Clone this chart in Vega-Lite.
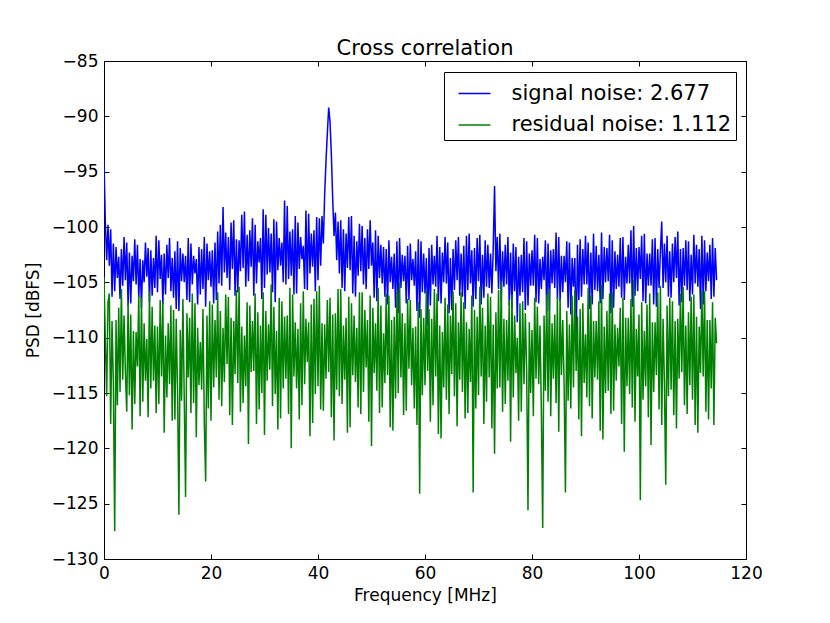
{
  "$schema": "https://vega.github.io/schema/vega-lite/v6.json",
  "title": {"text": "Cross correlation", "offset": -7},
  "width": 642,
  "height": 498,
  "autosize": "none",
  "padding": {"left": 104, "top": 61, "right": 84, "bottom": 64},
  "background": "white",
  "data": {
    "values": [
      {"f": 0, "s": -94.0, "r": -104.5}, {"f": 0.25, "s": -99.6, "r": -110.2}, {"f": 0.5, "s": -103.0, "r": -115.3}, {"f": 0.75, "s": -99.8, "r": -106.8},
      {"f": 1, "s": -103.5, "r": -106.0}, {"f": 1.25, "s": -100.2, "r": -117.8}, {"f": 1.5, "s": -106.3, "r": -108.5}, {"f": 1.75, "s": -101.5, "r": -114.0},
      {"f": 2, "s": -105.8, "r": -127.5}, {"f": 2.25, "s": -101.8, "r": -108.4}, {"f": 2.5, "s": -104.6, "r": -116.1}, {"f": 2.75, "s": -102.7, "r": -107.3},
      {"f": 3, "s": -106.5, "r": -114.9}, {"f": 3.25, "s": -102.0, "r": -105.6}, {"f": 3.5, "s": -105.3, "r": -113.8}, {"f": 3.75, "s": -100.9, "r": -108.0},
      {"f": 4, "s": -104.8, "r": -113.2}, {"f": 4.25, "s": -101.4, "r": -116.7}, {"f": 4.5, "s": -107.1, "r": -106.9}, {"f": 4.75, "s": -102.3, "r": -115.2},
      {"f": 5, "s": -106.9, "r": -107.9}, {"f": 5.25, "s": -102.6, "r": -118.3}, {"f": 5.5, "s": -104.9, "r": -109.4}, {"f": 5.75, "s": -101.1, "r": -116.0},
      {"f": 6, "s": -105.2, "r": -109.5}, {"f": 6.25, "s": -101.6, "r": -112.6}, {"f": 6.5, "s": -106.4, "r": -106.2}, {"f": 6.75, "s": -102.9, "r": -117.1},
      {"f": 7, "s": -107.3, "r": -106.4}, {"f": 7.25, "s": -103.0, "r": -115.8}, {"f": 7.5, "s": -105.0, "r": -108.7}, {"f": 7.75, "s": -101.4, "r": -113.9},
      {"f": 8, "s": -104.5, "r": -110.1}, {"f": 8.25, "s": -101.9, "r": -117.2}, {"f": 8.5, "s": -106.8, "r": -105.8}, {"f": 8.75, "s": -102.1, "r": -114.6},
      {"f": 9, "s": -106.2, "r": -107.2}, {"f": 9.25, "s": -102.8, "r": -113.9}, {"f": 9.5, "s": -105.5, "r": -108.9}, {"f": 9.75, "s": -100.8, "r": -116.8},
      {"f": 10, "s": -105.9, "r": -109.0}, {"f": 10.25, "s": -101.2, "r": -116.0}, {"f": 10.5, "s": -104.7, "r": -106.6}, {"f": 10.75, "s": -102.5, "r": -113.5},
      {"f": 11, "s": -107.0, "r": -106.8}, {"f": 11.25, "s": -102.4, "r": -118.6}, {"f": 11.5, "s": -106.1, "r": -109.8}, {"f": 11.75, "s": -101.6, "r": -115.4},
      {"f": 12, "s": -104.6, "r": -108.7}, {"f": 12.25, "s": -101.0, "r": -114.2}, {"f": 12.5, "s": -105.8, "r": -107.1}, {"f": 12.75, "s": -102.8, "r": -117.5},
      {"f": 13, "s": -106.4, "r": -107.5}, {"f": 13.25, "s": -102.2, "r": -117.4}, {"f": 13.5, "s": -107.4, "r": -108.3}, {"f": 13.75, "s": -101.3, "r": -114.8},
      {"f": 14, "s": -107.6, "r": -126.0}, {"f": 14.25, "s": -101.9, "r": -109.3}, {"f": 14.5, "s": -104.9, "r": -115.7}, {"f": 14.75, "s": -102.4, "r": -106.5},
      {"f": 15, "s": -105.0, "r": -115.5}, {"f": 15.25, "s": -102.6, "r": -124.4}, {"f": 15.5, "s": -106.6, "r": -107.8}, {"f": 15.75, "s": -101.0, "r": -113.6},
      {"f": 16, "s": -106.8, "r": -108.2}, {"f": 16.25, "s": -101.5, "r": -116.8}, {"f": 16.5, "s": -105.2, "r": -106.0}, {"f": 16.75, "s": -102.6, "r": -115.9},
      {"f": 17, "s": -104.2, "r": -106.9}, {"f": 17.25, "s": -102.9, "r": -119.0}, {"f": 17.5, "s": -107.0, "r": -109.1}, {"f": 17.75, "s": -101.8, "r": -114.3},
      {"f": 18, "s": -106.1, "r": -110.4}, {"f": 18.25, "s": -102.0, "r": -114.7}, {"f": 18.5, "s": -105.6, "r": -107.4}, {"f": 18.75, "s": -100.9, "r": -117.7},
      {"f": 19, "s": -107.2, "r": -123.0}, {"f": 19.25, "s": -101.5, "r": -108.0}, {"f": 19.5, "s": -104.8, "r": -116.4}, {"f": 19.75, "s": -102.2, "r": -106.7},
      {"f": 20, "s": -105.4, "r": -117.5}, {"f": 20.25, "s": -102.1, "r": -107.0}, {"f": 20.5, "s": -106.9, "r": -114.5}, {"f": 20.75, "s": -101.4, "r": -108.4},
      {"f": 21, "s": -106.6, "r": -113.6}, {"f": 21.25, "s": -100.4, "r": -105.9}, {"f": 21.5, "s": -105.1, "r": -115.6}, {"f": 21.75, "s": -99.8, "r": -107.6},
      {"f": 22, "s": -105.3, "r": -116.2}, {"f": 22.25, "s": -98.2, "r": -109.1}, {"f": 22.5, "s": -104.1, "r": -114.0}, {"f": 22.75, "s": -100.5, "r": -106.1},
      {"f": 23, "s": -104.6, "r": -112.4}, {"f": 23.25, "s": -100.9, "r": -106.3}, {"f": 23.5, "s": -105.7, "r": -117.0}, {"f": 23.75, "s": -99.6, "r": -108.2},
      {"f": 24, "s": -103.8, "r": -117.9}, {"f": 24.25, "s": -99.4, "r": -108.5}, {"f": 24.5, "s": -106.2, "r": -113.3}, {"f": 24.75, "s": -101.1, "r": -105.7},
      {"f": 25, "s": -105.9, "r": -114.1}, {"f": 25.25, "s": -101.2, "r": -105.4}, {"f": 25.5, "s": -104.0, "r": -116.7}, {"f": 25.75, "s": -98.9, "r": -109.0},
      {"f": 26, "s": -103.7, "r": -115.9}, {"f": 26.25, "s": -98.6, "r": -109.8}, {"f": 26.5, "s": -105.4, "r": -114.4}, {"f": 26.75, "s": -100.7, "r": -106.8},
      {"f": 27, "s": -104.9, "r": -119.6}, {"f": 27.25, "s": -100.3, "r": -107.1}, {"f": 27.5, "s": -103.6, "r": -113.1}, {"f": 27.75, "s": -99.2, "r": -108.5},
      {"f": 28, "s": -106.2, "r": -113.0}, {"f": 28.25, "s": -99.8, "r": -106.0}, {"f": 28.5, "s": -105.1, "r": -117.8}, {"f": 28.75, "s": -101.3, "r": -107.7},
      {"f": 29, "s": -103.2, "r": -116.5}, {"f": 29.25, "s": -101.0, "r": -108.9}, {"f": 29.5, "s": -106.5, "r": -115.0}, {"f": 29.75, "s": -98.4, "r": -105.9},
      {"f": 30, "s": -105.5, "r": -118.8}, {"f": 30.25, "s": -98.9, "r": -107.6}, {"f": 30.5, "s": -104.3, "r": -113.9}, {"f": 30.75, "s": -100.1, "r": -108.8},
      {"f": 31, "s": -104.1, "r": -112.9}, {"f": 31.25, "s": -100.6, "r": -105.2}, {"f": 31.5, "s": -105.9, "r": -116.2}, {"f": 31.75, "s": -99.3, "r": -107.2},
      {"f": 32, "s": -106.8, "r": -115.1}, {"f": 32.25, "s": -99.5, "r": -109.4}, {"f": 32.5, "s": -103.9, "r": -118.3}, {"f": 32.75, "s": -101.0, "r": -106.4},
      {"f": 33, "s": -103.5, "r": -117.3}, {"f": 33.25, "s": -101.4, "r": -106.7}, {"f": 33.5, "s": -105.0, "r": -114.6}, {"f": 33.75, "s": -97.6, "r": -108.1},
      {"f": 34, "s": -105.2, "r": -113.7}, {"f": 34.25, "s": -98.1, "r": -108.0}, {"f": 34.5, "s": -104.7, "r": -116.9}, {"f": 34.75, "s": -100.4, "r": -105.5},
      {"f": 35, "s": -104.4, "r": -120.0}, {"f": 35.25, "s": -100.2, "r": -106.1}, {"f": 35.5, "s": -106.1, "r": -113.5}, {"f": 35.75, "s": -99.0, "r": -108.6},
      {"f": 36, "s": -106.0, "r": -114.6}, {"f": 36.25, "s": -99.6, "r": -109.2}, {"f": 36.5, "s": -103.8, "r": -117.4}, {"f": 36.75, "s": -100.9, "r": -106.9},
      {"f": 37, "s": -102.9, "r": -116.1}, {"f": 37.25, "s": -101.7, "r": -105.8}, {"f": 37.5, "s": -105.6, "r": -114.2}, {"f": 37.75, "s": -98.5, "r": -108.3},
      {"f": 38, "s": -105.7, "r": -112.2}, {"f": 38.25, "s": -98.8, "r": -108.6}, {"f": 38.5, "s": -104.2, "r": -118.9}, {"f": 38.75, "s": -100.6, "r": -107.0},
      {"f": 39, "s": -103.6, "r": -117.7}, {"f": 39.25, "s": -100.3, "r": -106.5}, {"f": 39.5, "s": -105.8, "r": -115.1}, {"f": 39.75, "s": -99.1, "r": -105.8},
      {"f": 40, "s": -104.8, "r": -114.4}, {"f": 40.25, "s": -99.2, "r": -105.3}, {"f": 40.5, "s": -103.5, "r": -116.5}, {"f": 40.75, "s": -99.0, "r": -108.7},
      {"f": 41, "s": -101.5, "r": -116.6}, {"f": 41.25, "s": -97.0, "r": -108.8}, {"f": 41.5, "s": -94.0, "r": -113.7}, {"f": 41.75, "s": -91.5, "r": -106.6},
      {"f": 42, "s": -89.2, "r": -113.1}, {"f": 42.25, "s": -90.5, "r": -106.4}, {"f": 42.5, "s": -93.5, "r": -117.2}, {"f": 42.75, "s": -97.5, "r": -107.9},
      {"f": 43, "s": -100.8, "r": -119.3}, {"f": 43.25, "s": -98.7, "r": -107.8}, {"f": 43.5, "s": -103.0, "r": -114.7}, {"f": 43.75, "s": -99.5, "r": -105.6},
      {"f": 44, "s": -104.2, "r": -115.3}, {"f": 44.25, "s": -99.4, "r": -105.6}, {"f": 44.5, "s": -105.5, "r": -116.0}, {"f": 44.75, "s": -100.2, "r": -108.9},
      {"f": 45, "s": -105.8, "r": -113.8}, {"f": 45.25, "s": -100.6, "r": -108.2}, {"f": 45.5, "s": -103.7, "r": -118.6}, {"f": 45.75, "s": -99.1, "r": -106.3},
      {"f": 46, "s": -103.9, "r": -118.1}, {"f": 46.25, "s": -99.0, "r": -106.9}, {"f": 46.5, "s": -106.0, "r": -113.4}, {"f": 46.75, "s": -100.8, "r": -108.0},
      {"f": 47, "s": -106.3, "r": -114.0}, {"f": 47.25, "s": -101.3, "r": -109.1}, {"f": 47.5, "s": -104.4, "r": -116.3}, {"f": 47.75, "s": -99.7, "r": -105.9},
      {"f": 48, "s": -104.0, "r": -116.9}, {"f": 48.25, "s": -99.9, "r": -105.9}, {"f": 48.5, "s": -105.2, "r": -114.9}, {"f": 48.75, "s": -101.0, "r": -107.5},
      {"f": 49, "s": -105.6, "r": -112.7}, {"f": 49.25, "s": -100.2, "r": -108.4}, {"f": 49.5, "s": -103.8, "r": -117.6}, {"f": 49.75, "s": -99.4, "r": -106.2},
      {"f": 50, "s": -103.5, "r": -119.8}, {"f": 50.25, "s": -101.4, "r": -107.3}, {"f": 50.5, "s": -106.4, "r": -113.2}, {"f": 50.75, "s": -100.3, "r": -108.7},
      {"f": 51, "s": -106.7, "r": -114.8}, {"f": 51.25, "s": -100.8, "r": -105.5}, {"f": 51.5, "s": -104.6, "r": -116.8}, {"f": 51.75, "s": -101.6, "r": -107.1},
      {"f": 52, "s": -105.1, "r": -116.3}, {"f": 52.25, "s": -101.8, "r": -109.6}, {"f": 52.5, "s": -106.3, "r": -114.1}, {"f": 52.75, "s": -102.0, "r": -106.0},
      {"f": 53, "s": -107.0, "r": -113.4}, {"f": 53.25, "s": -101.2, "r": -106.2}, {"f": 53.5, "s": -105.0, "r": -118.1}, {"f": 53.75, "s": -102.7, "r": -108.4},
      {"f": 54, "s": -105.6, "r": -118.4}, {"f": 54.25, "s": -102.4, "r": -108.1}, {"f": 54.5, "s": -107.3, "r": -115.5}, {"f": 54.75, "s": -101.3, "r": -105.8},
      {"f": 55, "s": -107.8, "r": -115.0}, {"f": 55.25, "s": -101.0, "r": -105.0}, {"f": 55.5, "s": -105.5, "r": -113.6}, {"f": 55.75, "s": -102.5, "r": -107.8},
      {"f": 56, "s": -104.9, "r": -117.0}, {"f": 56.25, "s": -102.6, "r": -108.7}, {"f": 56.5, "s": -106.9, "r": -116.6}, {"f": 56.75, "s": -101.7, "r": -106.5},
      {"f": 57, "s": -106.6, "r": -112.8}, {"f": 57.25, "s": -101.5, "r": -106.6}, {"f": 57.5, "s": -104.8, "r": -114.3}, {"f": 57.75, "s": -102.9, "r": -109.1},
      {"f": 58, "s": -105.3, "r": -116.4}, {"f": 58.25, "s": -102.2, "r": -109.0}, {"f": 58.5, "s": -107.6, "r": -117.9}, {"f": 58.75, "s": -101.1, "r": -106.8},
      {"f": 59, "s": -108.2, "r": -124.1}, {"f": 59.25, "s": -101.3, "r": -107.4}, {"f": 59.5, "s": -105.9, "r": -115.2}, {"f": 59.75, "s": -102.4, "r": -108.2},
      {"f": 60, "s": -106.0, "r": -114.3}, {"f": 60.25, "s": -102.8, "r": -105.7}, {"f": 60.5, "s": -108.9, "r": -113.0}, {"f": 60.75, "s": -101.9, "r": -107.4},
      {"f": 61, "s": -107.1, "r": -117.6}, {"f": 61.25, "s": -101.6, "r": -108.3}, {"f": 61.5, "s": -105.2, "r": -116.1}, {"f": 61.75, "s": -102.6, "r": -105.6},
      {"f": 62, "s": -105.4, "r": -113.5}, {"f": 62.25, "s": -100.8, "r": -106.0}, {"f": 62.5, "s": -106.7, "r": -118.7}, {"f": 62.75, "s": -101.8, "r": -108.9},
      {"f": 63, "s": -106.9, "r": -119.1}, {"f": 63.25, "s": -102.3, "r": -109.5}, {"f": 63.5, "s": -105.0, "r": -114.5}, {"f": 63.75, "s": -100.9, "r": -106.4},
      {"f": 64, "s": -105.1, "r": -115.6}, {"f": 64.25, "s": -101.4, "r": -107.0}, {"f": 64.5, "s": -107.8, "r": -116.9}, {"f": 64.75, "s": -102.8, "r": -108.0},
      {"f": 65, "s": -107.5, "r": -113.3}, {"f": 65.25, "s": -102.0, "r": -105.8}, {"f": 65.5, "s": -105.7, "r": -115.3}, {"f": 65.75, "s": -101.2, "r": -106.9},
      {"f": 66, "s": -104.8, "r": -118.0}, {"f": 66.25, "s": -100.9, "r": -108.6}, {"f": 66.5, "s": -106.2, "r": -113.8}, {"f": 66.75, "s": -102.4, "r": -105.9},
      {"f": 67, "s": -106.3, "r": -114.9}, {"f": 67.25, "s": -101.7, "r": -106.8}, {"f": 67.5, "s": -107.4, "r": -117.3}, {"f": 67.75, "s": -100.8, "r": -108.6},
      {"f": 68, "s": -105.7, "r": -116.8}, {"f": 68.25, "s": -100.6, "r": -109.2}, {"f": 68.5, "s": -105.1, "r": -114.0}, {"f": 68.75, "s": -102.1, "r": -106.2},
      {"f": 69, "s": -107.2, "r": -124.0}, {"f": 69.25, "s": -101.9, "r": -107.5}, {"f": 69.5, "s": -106.5, "r": -116.4}, {"f": 69.75, "s": -101.0, "r": -108.1},
      {"f": 70, "s": -104.9, "r": -115.2}, {"f": 70.25, "s": -100.7, "r": -105.4}, {"f": 70.5, "s": -107.0, "r": -113.5}, {"f": 70.75, "s": -102.5, "r": -107.3},
      {"f": 71, "s": -106.4, "r": -117.8}, {"f": 71.25, "s": -101.2, "r": -108.9}, {"f": 71.5, "s": -105.4, "r": -115.8}, {"f": 71.75, "s": -101.6, "r": -106.0},
      {"f": 72, "s": -105.5, "r": -113.6}, {"f": 72.25, "s": -102.4, "r": -106.3}, {"f": 72.5, "s": -106.0, "r": -118.2}, {"f": 72.75, "s": -102.0, "r": -108.8},
      {"f": 73, "s": -96.3, "r": -120.5}, {"f": 73.25, "s": -104.0, "r": -107.7}, {"f": 73.5, "s": -100.9, "r": -114.6}, {"f": 73.75, "s": -105.6, "r": -105.7},
      {"f": 74, "s": -100.6, "r": -114.5}, {"f": 74.25, "s": -106.8, "r": -104.9}, {"f": 74.5, "s": -102.2, "r": -116.7}, {"f": 74.75, "s": -105.4, "r": -108.3},
      {"f": 75, "s": -101.6, "r": -116.0}, {"f": 75.25, "s": -105.2, "r": -108.4}, {"f": 75.5, "s": -100.9, "r": -113.9}, {"f": 75.75, "s": -107.1, "r": -106.6},
      {"f": 76, "s": -102.3, "r": -119.4}, {"f": 76.25, "s": -107.4, "r": -106.1}, {"f": 76.5, "s": -101.5, "r": -115.4}, {"f": 76.75, "s": -105.8, "r": -108.0},
      {"f": 77, "s": -101.8, "r": -113.2}, {"f": 77.25, "s": -108.6, "r": -110.0}, {"f": 77.5, "s": -102.7, "r": -117.5}, {"f": 77.75, "s": -106.2, "r": -106.9},
      {"f": 78, "s": -102.5, "r": -116.7}, {"f": 78.25, "s": -105.9, "r": -106.7}, {"f": 78.5, "s": -101.0, "r": -114.2}, {"f": 78.75, "s": -107.5, "r": -107.8},
      {"f": 79, "s": -101.3, "r": -112.9}, {"f": 79.25, "s": -107.1, "r": -125.6}, {"f": 79.5, "s": -102.4, "r": -108.6}, {"f": 79.75, "s": -105.3, "r": -115.0},
      {"f": 80, "s": -102.1, "r": -109.3}, {"f": 80.25, "s": -105.3, "r": -117.1}, {"f": 80.5, "s": -100.7, "r": -106.4}, {"f": 80.75, "s": -106.8, "r": -113.7},
      {"f": 81, "s": -101.0, "r": -107.2}, {"f": 81.25, "s": -106.9, "r": -114.2}, {"f": 81.5, "s": -102.9, "r": -108.9}, {"f": 81.75, "s": -105.6, "r": -116.6},
      {"f": 82, "s": -102.7, "r": -127.2}, {"f": 82.25, "s": -104.8, "r": -108.0}, {"f": 82.5, "s": -101.2, "r": -114.8}, {"f": 82.75, "s": -107.7, "r": -106.1},
      {"f": 83, "s": -101.5, "r": -115.8}, {"f": 83.25, "s": -107.6, "r": -105.6}, {"f": 83.5, "s": -102.1, "r": -117.1}, {"f": 83.75, "s": -105.1, "r": -108.7},
      {"f": 84, "s": -102.0, "r": -113.7}, {"f": 84.25, "s": -105.5, "r": -107.9}, {"f": 84.5, "s": -100.5, "r": -115.9}, {"f": 84.75, "s": -106.5, "r": -106.3},
      {"f": 85, "s": -100.9, "r": -118.5}, {"f": 85.25, "s": -106.7, "r": -106.5}, {"f": 85.5, "s": -102.6, "r": -113.4}, {"f": 85.75, "s": -105.9, "r": -108.4},
      {"f": 86, "s": -102.6, "r": -114.1}, {"f": 86.25, "s": -105.0, "r": -124.0}, {"f": 86.5, "s": -101.3, "r": -107.6}, {"f": 86.75, "s": -107.3, "r": -115.7},
      {"f": 87, "s": -101.4, "r": -108.8}, {"f": 87.25, "s": -107.9, "r": -116.4}, {"f": 87.5, "s": -102.8, "r": -106.2}, {"f": 87.75, "s": -105.4, "r": -114.5},
      {"f": 88, "s": -102.8, "r": -105.7}, {"f": 88.25, "s": -110.5, "r": -113.0}, {"f": 88.5, "s": -101.6, "r": -108.1}, {"f": 88.75, "s": -106.6, "r": -117.4},
      {"f": 89, "s": -101.1, "r": -107.4}, {"f": 89.25, "s": -106.3, "r": -118.9}, {"f": 89.5, "s": -102.0, "r": -106.9}, {"f": 89.75, "s": -105.2, "r": -114.1},
      {"f": 90, "s": -100.8, "r": -109.7}, {"f": 90.25, "s": -105.2, "r": -115.4}, {"f": 90.5, "s": -101.4, "r": -105.5}, {"f": 90.75, "s": -107.4, "r": -116.2},
      {"f": 91, "s": -102.3, "r": -106.2}, {"f": 91.25, "s": -107.0, "r": -117.3}, {"f": 91.5, "s": -100.6, "r": -108.5}, {"f": 91.75, "s": -105.7, "r": -113.6},
      {"f": 92, "s": -101.7, "r": -108.5}, {"f": 92.25, "s": -105.8, "r": -113.8}, {"f": 92.5, "s": -102.5, "r": -106.7}, {"f": 92.75, "s": -106.9, "r": -118.4},
      {"f": 93, "s": -100.5, "r": -105.2}, {"f": 93.25, "s": -106.5, "r": -119.2}, {"f": 93.5, "s": -101.8, "r": -109.0}, {"f": 93.75, "s": -105.0, "r": -115.0},
      {"f": 94, "s": -101.9, "r": -107.6}, {"f": 94.25, "s": -104.9, "r": -114.8}, {"f": 94.5, "s": -100.7, "r": -106.0}, {"f": 94.75, "s": -107.8, "r": -116.9},
      {"f": 95, "s": -101.2, "r": -105.9}, {"f": 95.25, "s": -107.3, "r": -116.6}, {"f": 95.5, "s": -102.2, "r": -108.8}, {"f": 95.75, "s": -105.6, "r": -113.9},
      {"f": 96, "s": -102.5, "r": -109.1}, {"f": 96.25, "s": -105.4, "r": -112.6}, {"f": 96.5, "s": -101.0, "r": -107.3}, {"f": 96.75, "s": -106.4, "r": -117.8},
      {"f": 97, "s": -100.9, "r": -106.4}, {"f": 97.25, "s": -106.6, "r": -120.3}, {"f": 97.5, "s": -102.7, "r": -108.2}, {"f": 97.75, "s": -105.1, "r": -114.4},
      {"f": 98, "s": -101.6, "r": -108.2}, {"f": 98.25, "s": -105.1, "r": -115.1}, {"f": 98.5, "s": -100.3, "r": -106.5}, {"f": 98.75, "s": -107.2, "r": -116.3},
      {"f": 99, "s": -99.9, "r": -104.8}, {"f": 99.25, "s": -106.2, "r": -117.6}, {"f": 99.5, "s": -101.9, "r": -109.2}, {"f": 99.75, "s": -105.8, "r": -113.5},
      {"f": 100, "s": -101.8, "r": -107.9}, {"f": 100.25, "s": -104.7, "r": -124.7}, {"f": 100.5, "s": -100.8, "r": -106.8}, {"f": 100.75, "s": -106.7, "r": -115.6},
      {"f": 101, "s": -100.6, "r": -109.4}, {"f": 101.25, "s": -106.9, "r": -114.4}, {"f": 101.5, "s": -102.4, "r": -107.0}, {"f": 101.75, "s": -105.3, "r": -117.2},
      {"f": 102, "s": -102.4, "r": -106.0}, {"f": 102.25, "s": -105.3, "r": -119.7}, {"f": 102.5, "s": -101.1, "r": -108.6}, {"f": 102.75, "s": -107.0, "r": -114.9},
      {"f": 103, "s": -101.0, "r": -108.6}, {"f": 103.25, "s": -107.2, "r": -113.4}, {"f": 103.5, "s": -102.0, "r": -105.9}, {"f": 103.75, "s": -105.5, "r": -116.5},
      {"f": 104, "s": -102.2, "r": -105.3}, {"f": 104.25, "s": -99.5, "r": -117.9}, {"f": 104.5, "s": -105.5, "r": -108.3}, {"f": 104.75, "s": -101.5, "r": -114.0},
      {"f": 105, "s": -105.0, "r": -123.3}, {"f": 105.25, "s": -100.8, "r": -107.1}, {"f": 105.5, "s": -106.3, "r": -115.3}, {"f": 105.75, "s": -102.2, "r": -106.4},
      {"f": 106, "s": -106.4, "r": -114.7}, {"f": 106.25, "s": -101.5, "r": -106.7}, {"f": 106.5, "s": -105.0, "r": -117.0}, {"f": 106.75, "s": -100.9, "r": -108.5},
      {"f": 107, "s": -104.6, "r": -118.2}, {"f": 107.25, "s": -100.4, "r": -108.3}, {"f": 107.5, "s": -107.1, "r": -113.7}, {"f": 107.75, "s": -102.0, "r": -106.0},
      {"f": 108, "s": -106.8, "r": -113.1}, {"f": 108.25, "s": -101.9, "r": -105.4}, {"f": 108.5, "s": -105.3, "r": -116.1}, {"f": 108.75, "s": -101.2, "r": -108.9},
      {"f": 109, "s": -105.7, "r": -116.9}, {"f": 109.25, "s": -101.3, "r": -107.7}, {"f": 109.5, "s": -106.7, "r": -114.3}, {"f": 109.75, "s": -102.5, "r": -106.3},
      {"f": 110, "s": -106.1, "r": -115.6}, {"f": 110.25, "s": -100.7, "r": -106.1}, {"f": 110.5, "s": -105.1, "r": -117.9}, {"f": 110.75, "s": -101.6, "r": -108.1},
      {"f": 111, "s": -105.4, "r": -118.6}, {"f": 111.25, "s": -102.0, "r": -109.0}, {"f": 111.5, "s": -107.4, "r": -113.2}, {"f": 111.75, "s": -100.8, "r": -105.7},
      {"f": 112, "s": -107.0, "r": -113.5}, {"f": 112.25, "s": -101.2, "r": -105.8}, {"f": 112.5, "s": -105.8, "r": -116.7}, {"f": 112.75, "s": -102.3, "r": -108.4},
      {"f": 113, "s": -104.9, "r": -117.4}, {"f": 113.25, "s": -101.6, "r": -108.4}, {"f": 113.5, "s": -106.5, "r": -114.6}, {"f": 113.75, "s": -101.0, "r": -106.8},
      {"f": 114, "s": -106.3, "r": -117.9}, {"f": 114.25, "s": -101.9, "r": -108.2}, {"f": 114.5, "s": -104.8, "r": -110.5}
    ]
  },
  "layer": [
    {
      "mark": {"type": "line", "strokeWidth": 1.5, "clip": true},
      "encoding": {
        "x": {
          "field": "f",
          "type": "quantitative",
          "title": "Frequency [MHz]",
          "scale": {"domain": [0, 120], "nice": false, "zero": false},
          "axis": {"values": [0, 20, 40, 60, 80, 100, 120]}
        },
        "y": {
          "field": "s",
          "type": "quantitative",
          "title": "PSD [dBFS]",
          "scale": {"domain": [-130, -85], "nice": false, "zero": false},
          "axis": {"values": [-130, -125, -120, -115, -110, -105, -100, -95, -90, -85]}
        },
        "color": {
          "datum": "signal noise: 2.677",
          "type": "nominal",
          "scale": {
            "domain": ["signal noise: 2.677", "residual noise: 1.112"],
            "range": ["#0000ff", "#008000"]
          },
          "legend": {
            "title": null,
            "orient": "none",
            "legendX": 340,
            "legendY": 11,
            "symbolType": "stroke",
            "symbolSize": 1024,
            "symbolStrokeWidth": 1.3,
            "symbolOffset": 9,
            "labelFontSize": 21,
            "labelFont": "DejaVu Sans",
            "labelColor": "black",
            "labelLimit": 0,
            "labelOffset": 20,
            "rowPadding": 4.5,
            "padding": 4.5,
            "strokeColor": "black",
            "fillColor": "white",
            "cornerRadius": 0
          }
        }
      }
    },
    {
      "mark": {"type": "line", "strokeWidth": 1.5, "clip": true},
      "encoding": {
        "x": {
          "field": "f",
          "type": "quantitative",
          "axis": {"orient": "top", "labels": false, "title": null, "values": [0, 20, 40, 60, 80, 100, 120]}
        },
        "y": {
          "field": "r",
          "type": "quantitative",
          "axis": {"orient": "right", "labels": false, "title": null, "values": [-130, -125, -120, -115, -110, -105, -100, -95, -90, -85]}
        },
        "color": {"datum": "residual noise: 1.112", "type": "nominal"}
      }
    }
  ],
  "resolve": {"axis": {"x": "independent", "y": "independent"}},
  "config": {
    "view": {"stroke": "black", "strokeWidth": 1},
    "font": "DejaVu Sans",
    "title": {"fontSize": 21, "fontWeight": "normal", "color": "black", "font": "DejaVu Sans"},
    "axis": {
      "domain": false,
      "grid": false,
      "tickColor": "black",
      "tickSize": -5,
      "labelFont": "DejaVu Sans",
      "labelFontSize": 17,
      "labelColor": "black",
      "labelFlush": false,
      "labelOverlap": false,
      "labelPadding": 11,
      "titleFont": "DejaVu Sans",
      "titleFontSize": 17,
      "titleFontWeight": "normal",
      "titleColor": "black"
    },
    "axisX": {"titlePadding": 6},
    "axisY": {"titlePadding": 9}
  }
}
